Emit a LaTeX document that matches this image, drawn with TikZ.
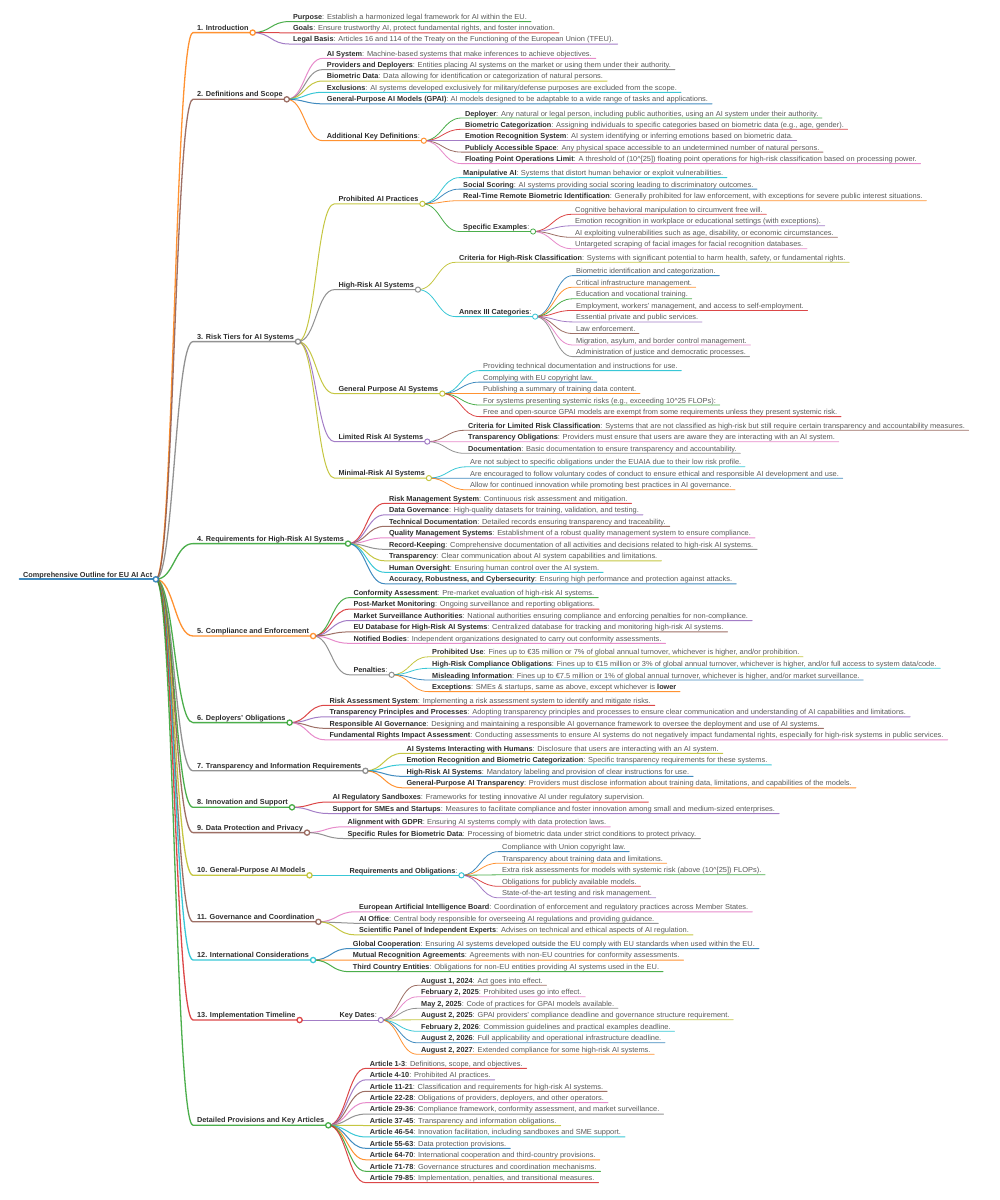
\documentclass[tikz,border=0pt]{standalone}
\usepackage{fontspec}
\setmainfont{Liberation Sans}[UprightFeatures={FakeStretch=1.02}]
\definecolor{c1}{HTML}{1F77B4}
\definecolor{c2}{HTML}{FF7F0E}
\definecolor{c3}{HTML}{2CA02C}
\definecolor{c4}{HTML}{D62728}
\definecolor{c5}{HTML}{9467BD}
\definecolor{c6}{HTML}{8C564B}
\definecolor{c7}{HTML}{E377C2}
\definecolor{c8}{HTML}{7F7F7F}
\definecolor{c9}{HTML}{BCBD22}
\definecolor{c10}{HTML}{17BECF}
\definecolor{tg}{HTML}{5A5A5A}
\definecolor{tb}{HTML}{2E2E2E}
\newcommand\mmfont{\fontsize{7.3}{8.5}\selectfont}
\newcommand\mmb[1]{{\bfseries\color{tb}#1}}
\tikzset{
  mm/.style={anchor=south west, xshift=-3.5pt, yshift=-4.3pt, inner xsep=3.5pt, inner ysep=0.2pt,
    text height=5.4pt, text depth=1.6pt, font=\mmfont, text=tg},
  hb/.style={font=\mmfont\bfseries, text=tb},
  ln/.style={line width=0.8pt, draw opacity=0.85, line cap=round},
  d1/.style={line width=1.3pt},
  d2/.style={line width=1.0pt},
  mmlink/.style={to path={.. controls +(18pt,0) and +(-18pt,0) .. (\tikztotarget)}},
}
\newcommand\mmkid[7][]{%
  \node[mm,#1] (#3) at (#5,#6) {#7};
  \draw[ln,#4,#1] (#2.south east) to[mmlink] (#3.south west) -- (#3.south east);}
\newcommand\mmdot[3][]{\draw[ln,#3,#1,fill=white] (#2.south east) circle (2.6pt);}
\begin{document}
\begin{tikzpicture}[x=1pt,y=-1pt]
\useasboundingbox (0,0) rectangle (1000,1200);
\fill[white] (0,0) rectangle (1000,1200);
% root
\node[mm,hb] (root) at (23,575) {Comprehensive Outline for EU AI Act};
\draw[ln,c1,line width=1.8pt] (root.south west) -- (root.south east);
% level 1
\mmkid[d1,hb]{root}{n1}{c2}{196.5}{28.3}{1. Introduction}
\mmkid[d1,hb]{root}{n2}{c6}{196.5}{95}{2. Definitions and Scope}
\mmkid[d1,hb]{root}{n3}{c8}{196.5}{337.3}{3. Risk Tiers for AI Systems}
\mmkid[d1,hb]{root}{n4}{c3}{196.5}{539.3}{4. Requirements for High-Risk AI Systems}
\mmkid[d1,hb]{root}{n5}{c2}{196.5}{631.7}{5. Compliance and Enforcement}
\mmkid[d1,hb]{root}{n6}{c3}{196.5}{718.3}{6. Deployers' Obligations}
\mmkid[d1,hb]{root}{n7}{c8}{196.5}{766.5}{7. Transparency and Information Requirements}
\mmkid[d1,hb]{root}{n8}{c3}{196.5}{803}{8. Innovation and Support}
\mmkid[d1,hb]{root}{n9}{c6}{196.5}{828.3}{9. Data Protection and Privacy}
\mmkid[d1,hb]{root}{n10}{c9}{196.5}{871}{10. General-Purpose AI Models}
\mmkid[d1,hb]{root}{n11}{c6}{196.5}{917.5}{11. Governance and Coordination}
\mmkid[d1,hb]{root}{n12}{c10}{196.5}{955.7}{12. International Considerations}
\mmkid[d1,hb]{root}{n13}{c4}{196.5}{1015.7}{13. Implementation Timeline}
\mmkid[d1,hb]{root}{n14}{c3}{196.5}{1121}{Detailed Provisions and Key Articles}
% 1
\mmkid[d2]{n1}{purpose}{c3}{292.5}{17.3}{\mmb{Purpose}: Establish a harmonized legal framework for AI within the EU.}
\mmkid[d2]{n1}{goals}{c4}{292.5}{28.5}{\mmb{Goals}: Ensure trustworthy AI, protect fundamental rights, and foster innovation.}
\mmkid[d2]{n1}{legal}{c5}{292.5}{39.7}{\mmb{Legal Basis}: Articles 16 and 114 of the Treaty on the Functioning of the European Union (TFEU).}
% 2
\mmkid[d2]{n2}{aisys}{c7}{326.4}{54}{\mmb{AI System}: Machine-based systems that make inferences to achieve objectives.}
\mmkid[d2]{n2}{provdep}{c8}{326.4}{65.3}{\mmb{Providers and Deployers}: Entities placing AI systems on the market or using them under their authority.}
\mmkid[d2]{n2}{biodata}{c9}{326.4}{76.7}{\mmb{Biometric Data}: Data allowing for identification or categorization of natural persons.}
\mmkid[d2]{n2}{excl}{c10}{326.4}{88}{\mmb{Exclusions}: AI systems developed exclusively for military/defense purposes are excluded from the scope.}
\mmkid[d2]{n2}{gpaidef}{c1}{326.4}{99.5}{\mmb{General-Purpose AI Models (GPAI)}: AI models designed to be adaptable to a wide range of tasks and applications.}
\mmkid[d2]{n2}{akd}{c2}{326.4}{136.4}{\mmb{Additional Key Definitions}:}
\mmkid{akd}{deployer}{c3}{464.8}{113.7}{\mmb{Deployer}: Any natural or legal person, including public authorities, using an AI system under their authority.}
\mmkid{akd}{biocat}{c4}{464.8}{125}{\mmb{Biometric Categorization}: Assigning individuals to specific categories based on biometric data (e.g., age, gender).}
\mmkid{akd}{emorec}{c5}{464.8}{136.4}{\mmb{Emotion Recognition System}: AI system identifying or inferring emotions based on biometric data.}
\mmkid{akd}{pubspace}{c6}{464.8}{147.8}{\mmb{Publicly Accessible Space}: Any physical space accessible to an undetermined number of natural persons.}
\mmkid{akd}{flops}{c7}{464.8}{159.3}{\mmb{Floating Point Operations Limit}: A threshold of (10\textasciicircum[25]) floating point operations for high-risk classification based on processing power.}
% 3
\mmkid[d2,hb]{n3}{prohib}{c9}{338}{199.5}{Prohibited AI Practices}
\mmkid[d2,hb]{n3}{hrisk}{c8}{338}{285.3}{High-Risk AI Systems}
\mmkid[d2,hb]{n3}{gpaisys}{c9}{338}{389.3}{General Purpose AI Systems}
\mmkid[d2,hb]{n3}{limited}{c5}{338}{437.3}{Limited Risk AI Systems}
\mmkid[d2,hb]{n3}{minimal}{c9}{338}{473.8}{Minimal-Risk AI Systems}
\mmkid{prohib}{manip}{c10}{463}{173.3}{\mmb{Manipulative AI}: Systems that distort human behavior or exploit vulnerabilities.}
\mmkid{prohib}{social}{c1}{463}{184.8}{\mmb{Social Scoring}: AI systems providing social scoring leading to discriminatory outcomes.}
\mmkid{prohib}{realtime}{c2}{463}{196.4}{\mmb{Real-Time Remote Biometric Identification}: Generally prohibited for law enforcement, with exceptions for severe public interest situations.}
\mmkid{prohib}{specex}{c3}{463}{227.2}{\mmb{Specific Examples}:}
\mmkid{specex}{cogn}{c4}{575}{210}{Cognitive behavioral manipulation to circumvent free will.}
\mmkid{specex}{emowork}{c5}{575}{221.5}{Emotion recognition in workplace or educational settings (with exceptions).}
\mmkid{specex}{exploit}{c6}{575}{233}{AI exploiting vulnerabilities such as age, disability, or economic circumstances.}
\mmkid{specex}{scrape}{c7}{575}{244.4}{Untargeted scraping of facial images for facial recognition databases.}
\mmkid{hrisk}{crithr}{c9}{459}{258}{\mmb{Criteria for High-Risk Classification}: Systems with significant potential to harm health, safety, or fundamental rights.}
\mmkid{hrisk}{annex}{c10}{459}{312.3}{\mmb{Annex III Categories}:}
\mmkid{annex}{ax1}{c1}{576}{271.3}{Biometric identification and categorization.}
\mmkid{annex}{ax2}{c2}{576}{282.9}{Critical infrastructure management.}
\mmkid{annex}{ax3}{c3}{576}{294.5}{Education and vocational training.}
\mmkid{annex}{ax4}{c4}{576}{306.1}{Employment, workers' management, and access to self-employment.}
\mmkid{annex}{ax5}{c5}{576}{317.6}{Essential private and public services.}
\mmkid{annex}{ax6}{c6}{576}{329.2}{Law enforcement.}
\mmkid{annex}{ax7}{c7}{576}{340.7}{Migration, asylum, and border control management.}
\mmkid{annex}{ax8}{c8}{576}{352.3}{Administration of justice and democratic processes.}
\mmkid{gpaisys}{gs1}{c10}{483}{366.3}{Providing technical documentation and instructions for use.}
\mmkid{gpaisys}{gs2}{c1}{483}{377.8}{Complying with EU copyright law.}
\mmkid{gpaisys}{gs3}{c2}{483}{389.2}{Publishing a summary of training data content.}
\mmkid{gpaisys}{gs4}{c3}{483}{400.7}{For systems presenting systemic risks (e.g., exceeding 10\textasciicircum{}25 FLOPs):}
\mmkid{gpaisys}{gs5}{c4}{483}{412.3}{Free and open-source GPAI models are exempt from some requirements unless they present systemic risk.}
\mmkid{limited}{critlim}{c6}{468}{426}{\mmb{Criteria for Limited Risk Classification}: Systems that are not classified as high-risk but still require certain transparency and accountability measures.}
\mmkid{limited}{transobl}{c7}{468}{437.5}{\mmb{Transparency Obligations}: Providers must ensure that users are aware they are interacting with an AI system.}
\mmkid{limited}{docu}{c8}{468}{449}{\mmb{Documentation}: Basic documentation to ensure transparency and accountability.}
\mmkid{minimal}{mr1}{c10}{470}{462.5}{Are not subject to specific obligations under the EUAIA due to their low risk profile.}
\mmkid{minimal}{mr2}{c1}{470}{474}{Are encouraged to follow voluntary codes of conduct to ensure ethical and responsible AI development and use.}
\mmkid{minimal}{mr3}{c2}{470}{485.5}{Allow for continued innovation while promoting best practices in AI governance.}
% 4
\mmkid[d2]{n4}{rq1}{c4}{388.5}{499}{\mmb{Risk Management System}: Continuous risk assessment and mitigation.}
\mmkid[d2]{n4}{rq2}{c5}{388.5}{510.5}{\mmb{Data Governance}: High-quality datasets for training, validation, and testing.}
\mmkid[d2]{n4}{rq3}{c6}{388.5}{522}{\mmb{Technical Documentation}: Detailed records ensuring transparency and traceability.}
\mmkid[d2]{n4}{rq4}{c7}{388.5}{533.5}{\mmb{Quality Management Systems}: Establishment of a robust quality management system to ensure compliance.}
\mmkid[d2]{n4}{rq5}{c8}{388.5}{545}{\mmb{Record-Keeping}: Comprehensive documentation of all activities and decisions related to high-risk AI systems.}
\mmkid[d2]{n4}{rq6}{c9}{388.5}{556.5}{\mmb{Transparency}: Clear communication about AI system capabilities and limitations.}
\mmkid[d2]{n4}{rq7}{c10}{388.5}{568}{\mmb{Human Oversight}: Ensuring human control over the AI system.}
\mmkid[d2]{n4}{rq8}{c1}{388.5}{579.5}{\mmb{Accuracy, Robustness, and Cybersecurity}: Ensuring high performance and protection against attacks.}
% 5
\mmkid[d2]{n5}{ce1}{c3}{353}{593.3}{\mmb{Conformity Assessment}: Pre-market evaluation of high-risk AI systems.}
\mmkid[d2]{n5}{ce2}{c4}{353}{604.8}{\mmb{Post-Market Monitoring}: Ongoing surveillance and reporting obligations.}
\mmkid[d2]{n5}{ce3}{c5}{353}{616.2}{\mmb{Market Surveillance Authorities}: National authorities ensuring compliance and enforcing penalties for non-compliance.}
\mmkid[d2]{n5}{ce4}{c6}{353}{627.6}{\mmb{EU Database for High-Risk AI Systems}: Centralized database for tracking and monitoring high-risk AI systems.}
\mmkid[d2]{n5}{ce5}{c7}{353}{639}{\mmb{Notified Bodies}: Independent organizations designated to carry out conformity assessments.}
\mmkid[d2]{n5}{penal}{c8}{353}{670.5}{\mmb{Penalties}:}
\mmkid{penal}{pn1}{c9}{432}{652.5}{\mmb{Prohibited Use}: Fines up to €35 million or 7\% of global annual turnover, whichever is higher, and/or prohibition.}
\mmkid{penal}{pn2}{c10}{432}{664}{\mmb{High-Risk Compliance Obligations}: Fines up to €15 million or 3\% of global annual turnover, whichever is higher, and/or full access to system data/code.}
\mmkid{penal}{pn3}{c1}{432}{675.7}{\mmb{Misleading Information}: Fines up to €7.5 million or 1\% of global annual turnover, whichever is higher, and/or market surveillance.}
\mmkid{penal}{pn4}{c2}{432}{687.3}{\mmb{Exceptions}: SMEs \& startups, same as above, except whichever is \mmb{lower}}
% 6
\mmkid[d2]{n6}{do1}{c4}{329}{701}{\mmb{Risk Assessment System}: Implementing a risk assessment system to identify and mitigate risks.}
\mmkid[d2]{n6}{do2}{c5}{329}{712.5}{\mmb{Transparency Principles and Processes}: Adopting transparency principles and processes to ensure clear communication and understanding of AI capabilities and limitations.}
\mmkid[d2]{n6}{do3}{c6}{329}{724}{\mmb{Responsible AI Governance}: Designing and maintaining a responsible AI governance framework to oversee the deployment and use of AI systems.}
\mmkid[d2]{n6}{do4}{c7}{329}{735.5}{\mmb{Fundamental Rights Impact Assessment}: Conducting assessments to ensure AI systems do not negatively impact fundamental rights, especially for high-risk systems in public services.}
% 7
\mmkid[d2]{n7}{ti1}{c9}{406}{749}{\mmb{AI Systems Interacting with Humans}: Disclosure that users are interacting with an AI system.}
\mmkid[d2]{n7}{ti2}{c10}{406}{760.6}{\mmb{Emotion Recognition and Biometric Categorization}: Specific transparency requirements for these systems.}
\mmkid[d2]{n7}{ti3}{c1}{406}{772}{\mmb{High-Risk AI Systems}: Mandatory labeling and provision of clear instructions for use.}
\mmkid[d2]{n7}{ti4}{c2}{406}{783.5}{\mmb{General-Purpose AI Transparency}: Providers must disclose information about training data, limitations, and capabilities of the models.}
% 8
\mmkid[d2]{n8}{is1}{c4}{332}{797.7}{\mmb{AI Regulatory Sandboxes}: Frameworks for testing innovative AI under regulatory supervision.}
\mmkid[d2]{n8}{is2}{c5}{332}{809.2}{\mmb{Support for SMEs and Startups}: Measures to facilitate compliance and foster innovation among small and medium-sized enterprises.}
% 9
\mmkid[d2]{n9}{dp1}{c7}{347}{822.5}{\mmb{Alignment with GDPR}: Ensuring AI systems comply with data protection laws.}
\mmkid[d2]{n9}{dp2}{c8}{347}{834.2}{\mmb{Specific Rules for Biometric Data}: Processing of biometric data under strict conditions to protect privacy.}
% 10
\mmkid[d2]{n10}{reqobl}{c10}{349}{871}{\mmb{Requirements and Obligations}:}
\mmkid{reqobl}{ro1}{c1}{502}{847.3}{Compliance with Union copyright law.}
\mmkid{reqobl}{ro2}{c2}{502}{858.9}{Transparency about training data and limitations.}
\mmkid{reqobl}{ro3}{c3}{502}{870.5}{Extra risk assessments for models with systemic risk (above (10\textasciicircum[25]) FLOPs).}
\mmkid{reqobl}{ro4}{c4}{502}{882}{Obligations for publicly available models.}
\mmkid{reqobl}{ro5}{c5}{502}{893.5}{State-of-the-art testing and risk management.}
% 11
\mmkid[d2]{n11}{gc1}{c7}{358.6}{907.5}{\mmb{European Artificial Intelligence Board}: Coordination of enforcement and regulatory practices across Member States.}
\mmkid[d2]{n11}{gc2}{c8}{358.6}{919}{\mmb{AI Office}: Central body responsible for overseeing AI regulations and providing guidance.}
\mmkid[d2]{n11}{gc3}{c9}{358.6}{930.5}{\mmb{Scientific Panel of Independent Experts}: Advises on technical and ethical aspects of AI regulation.}
% 12
\mmkid[d2]{n12}{ic1}{c1}{352.4}{944.3}{\mmb{Global Cooperation}: Ensuring AI systems developed outside the EU comply with EU standards when used within the EU.}
\mmkid[d2]{n12}{ic2}{c2}{352.4}{955.8}{\mmb{Mutual Recognition Agreements}: Agreements with non-EU countries for conformity assessments.}
\mmkid[d2]{n12}{ic3}{c3}{352.4}{967.3}{\mmb{Third Country Entities}: Obligations for non-EU entities providing AI systems used in the EU.}
% 13
\mmkid[d2]{n13}{keyd}{c5}{339}{1015.7}{\mmb{Key Dates}:}
\mmkid{keyd}{kd1}{c6}{421}{981}{\mmb{August 1, 2024}: Act goes into effect.}
\mmkid{keyd}{kd2}{c7}{421}{992.5}{\mmb{February 2, 2025}: Prohibited uses go into effect.}
\mmkid{keyd}{kd3}{c8}{421}{1004}{\mmb{May 2, 2025}: Code of practices for GPAI models available.}
\mmkid{keyd}{kd4}{c9}{421}{1015.5}{\mmb{August 2, 2025}: GPAI providers' compliance deadline and governance structure requirement.}
\mmkid{keyd}{kd5}{c10}{421}{1027}{\mmb{February 2, 2026}: Commission guidelines and practical examples deadline.}
\mmkid{keyd}{kd6}{c1}{421}{1038.5}{\mmb{August 2, 2026}: Full applicability and operational infrastructure deadline.}
\mmkid{keyd}{kd7}{c2}{421}{1050}{\mmb{August 2, 2027}: Extended compliance for some high-risk AI systems.}
% 14
\mmkid[d2]{n14}{ar1}{c4}{369.4}{1064}{\mmb{Article 1-3}: Definitions, scope, and objectives.}
\mmkid[d2]{n14}{ar2}{c5}{369.4}{1075.5}{\mmb{Article 4-10}: Prohibited AI practices.}
\mmkid[d2]{n14}{ar3}{c6}{369.4}{1087}{\mmb{Article 11-21}: Classification and requirements for high-risk AI systems.}
\mmkid[d2]{n14}{ar4}{c7}{369.4}{1098.4}{\mmb{Article 22-28}: Obligations of providers, deployers, and other operators.}
\mmkid[d2]{n14}{ar5}{c8}{369.4}{1109.8}{\mmb{Article 29-36}: Compliance framework, conformity assessment, and market surveillance.}
\mmkid[d2]{n14}{ar6}{c9}{369.4}{1121.2}{\mmb{Article 37-45}: Transparency and information obligations.}
\mmkid[d2]{n14}{ar7}{c10}{369.4}{1132.6}{\mmb{Article 46-54}: Innovation facilitation, including sandboxes and SME support.}
\mmkid[d2]{n14}{ar8}{c1}{369.4}{1144}{\mmb{Article 55-63}: Data protection provisions.}
\mmkid[d2]{n14}{ar9}{c2}{369.4}{1155.5}{\mmb{Article 64-70}: International cooperation and third-country provisions.}
\mmkid[d2]{n14}{ar10}{c3}{369.4}{1167}{\mmb{Article 71-78}: Governance structures and coordination mechanisms.}
\mmkid[d2]{n14}{ar11}{c4}{369.4}{1178.4}{\mmb{Article 79-85}: Implementation, penalties, and transitional measures.}
% circles on top
\mmdot[line width=1.5pt]{root}{c1}
\mmdot[d1]{n1}{c2}
\mmdot[d1]{n2}{c6}
\mmdot[d1]{n3}{c8}
\mmdot[d1]{n4}{c3}
\mmdot[d1]{n5}{c2}
\mmdot[d1]{n6}{c3}
\mmdot[d1]{n7}{c8}
\mmdot[d1]{n8}{c3}
\mmdot[d1]{n9}{c6}
\mmdot[d1]{n10}{c9}
\mmdot[d1]{n11}{c6}
\mmdot[d1]{n12}{c10}
\mmdot[d1]{n13}{c4}
\mmdot[d1]{n14}{c3}
\mmdot[d2]{akd}{c2}
\mmdot[d2]{prohib}{c9}
\mmdot[d2]{hrisk}{c8}
\mmdot[d2]{gpaisys}{c9}
\mmdot[d2]{limited}{c5}
\mmdot[d2]{minimal}{c9}
\mmdot[d2]{penal}{c8}
\mmdot[d2]{reqobl}{c10}
\mmdot[d2]{keyd}{c5}
\mmdot{specex}{c3}
\mmdot{annex}{c10}
\end{tikzpicture}
\end{document}
